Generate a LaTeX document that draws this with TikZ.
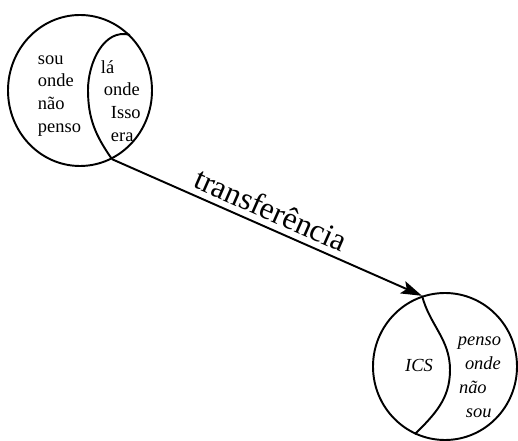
\documentclass[tikz,border=0pt]{standalone}
\usepackage{fontspec}
\setmainfont{Liberation Serif}
\usetikzlibrary{shapes.geometric, arrows.meta, positioning}

\begin{document}
\begin{tikzpicture}[line width=1.1pt,
    lugar/.style={draw, ellipse, inner sep=0pt},
    verso/.style={font=\fontsize{10.5}{13}\selectfont, align=left, inner sep=0pt}]
  \useasboundingbox (0,0) rectangle (10.36,8.8);
  % the two places
  \node[lugar, minimum width=2.88cm, minimum height=3.02cm] (sou) at (1.6,6.99) {};
  \node[lugar, minimum width=2.88cm, minimum height=2.94cm] (ics) at (8.9,1.47) {};
  % inner lenses
  \coordinate (souin) at (1.76,7.0);
  \coordinate (icsin) at (9.0,1.4);
  \draw (sou.-65) to[out=125, in=270] (souin) to[out=90, in=165] (sou.48);
  \draw (ics.108.6) to[out=-75, in=90] (icsin) to[out=-90, in=45] (ics.246);
  % texts
  \node[verso, anchor=west] (naopenso) at (0.74,6.88)
    {sou\\onde\\não\\penso};
  \node[verso, anchor=west] (laonde) at (2.0,6.78)
    {lá\\\hspace*{1.7pt}onde\\\hspace*{5.7pt}Isso\\\hspace*{5.7pt}era};
  \node[font=\fontsize{10.5}{13}\selectfont\itshape] (icstxt) at (8.38,1.5) {ICS};
  \node[verso, font=\fontsize{10.5}{13.6}\selectfont\itshape, anchor=west] (naosou) at (9.14,1.25)
    {penso\\\hspace*{4pt}onde\\\hspace*{0.6pt}não\\\hspace*{4.5pt}sou};
  % transference
  \draw[-{Stealth[length=12pt, width=7.5pt, inset=2.5pt]}] (sou.-65) --
    node[sloped, above, pos=0.49, font=\fontsize{18}{21}\selectfont] (transf) {transferência}
    (ics.108.6);
\end{tikzpicture}
\end{document}
